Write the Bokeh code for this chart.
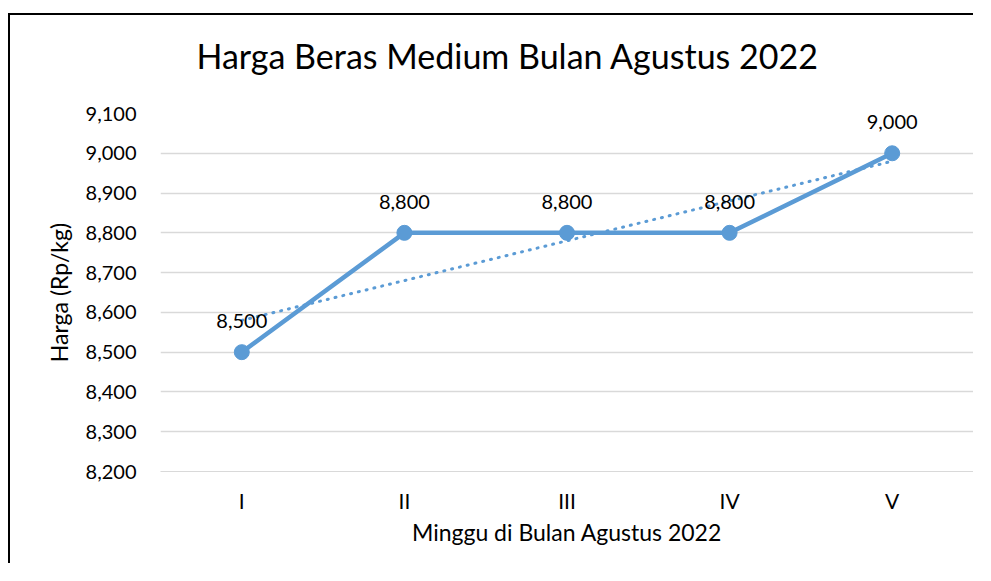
from bokeh.plotting import figure
from bokeh.models import ColumnDataSource, LabelSet, FixedTicker, NumeralTickFormatter, Title
from bokeh.core.properties import value
from bokeh.embed import file_html
from bokeh.resources import INLINE

weeks = ["I", "II", "III", "IV", "V"]
harga = [8500, 8800, 8800, 8800, 9000]
trend = [8580, 8680, 8780, 8880, 8980]
labels = ["8,500", "8,800", "8,800", "8,800", "9,000"]
y_ticks = [8200, 8300, 8400, 8500, 8600, 8700, 8800, 8900, 9000, 9100]

FONT = "Lato"
BLUE = "#5B9BD5"

src = ColumnDataSource(dict(x=weeks, y=harga, t=trend, lab=labels))

p = figure(x_range=weeks, y_range=(8200, 9100), width=965, height=550,
           output_backend="svg", toolbar_location=None,
           title="Harga Beras Medium Bulan Agustus 2022")
p.min_border_left = 150
p.min_border_right = 2
p.min_border_top = 98
p.min_border_bottom = 94
p.outline_line_color = None
p.background_fill_color = "white"
p.border_fill_color = "white"
p.styles = {"margin-left": "8px", "margin-top": "13px",
            "border-left": "2px solid black", "border-top": "2px solid black"}

p.title.text_font = FONT
p.title.text_font_size = "34px"
p.title.text_font_style = "normal"
p.title.align = "left"
p.title.text_color = "#000000"
p.title.offset = 36
p.title.standoff = 0

# spacer between title and plot area
p.add_layout(Title(text=" ", text_font_size="1px", standoff=35), "above")

p.line("x", "t", source=src, color=BLUE, line_width=3, line_dash="1 7", line_cap="round")
p.line("x", "y", source=src, color=BLUE, line_width=4.5, line_join="round")
p.scatter("x", "y", source=src, size=15, color=BLUE)

lbl = LabelSet(x="x", y="y", text="lab", source=src, y_offset=24, text_align="center",
               text_baseline="alphabetic", text_font=value(FONT), text_font_size=value("20px"),
               text_color="#000000")
p.add_layout(lbl)

p.yaxis.ticker = FixedTicker(ticks=y_ticks)
p.yaxis.formatter = NumeralTickFormatter(format="0,0")
p.yaxis.axis_line_color = None
p.yaxis.major_tick_line_color = None
p.yaxis.minor_tick_line_color = None
p.yaxis.major_label_text_font = FONT
p.yaxis.major_label_text_font_size = "20px"
p.yaxis.major_label_text_color = "#000000"
p.yaxis.major_label_standoff = 18
p.yaxis.axis_label = "Harga (Rp/kg)"
p.yaxis.axis_label_text_font = FONT
p.yaxis.axis_label_text_font_size = "23px"
p.yaxis.axis_label_text_font_style = "normal"
p.yaxis.axis_label_text_color = "#000000"
p.yaxis.axis_label_standoff = 10

p.xaxis.axis_line_color = "#D9D9D9"
p.xaxis.major_tick_line_color = None
p.xaxis.minor_tick_line_color = None
p.xaxis.major_label_text_font = FONT
p.xaxis.major_label_text_font_size = "21px"
p.xaxis.major_label_text_color = "#000000"
p.xaxis.major_label_standoff = 10
p.xaxis.axis_label = "Minggu di Bulan Agustus 2022"
p.xaxis.axis_label_text_font = FONT
p.xaxis.axis_label_text_font_size = "23px"
p.xaxis.axis_label_text_font_style = "normal"
p.xaxis.axis_label_text_color = "#000000"
p.xaxis.axis_label_standoff = 2

p.xgrid.grid_line_color = None
p.ygrid.grid_line_color = "#D9D9D9"
p.ygrid.grid_line_width = 1.3

open("out.html", "w").write(file_html(p, INLINE))
